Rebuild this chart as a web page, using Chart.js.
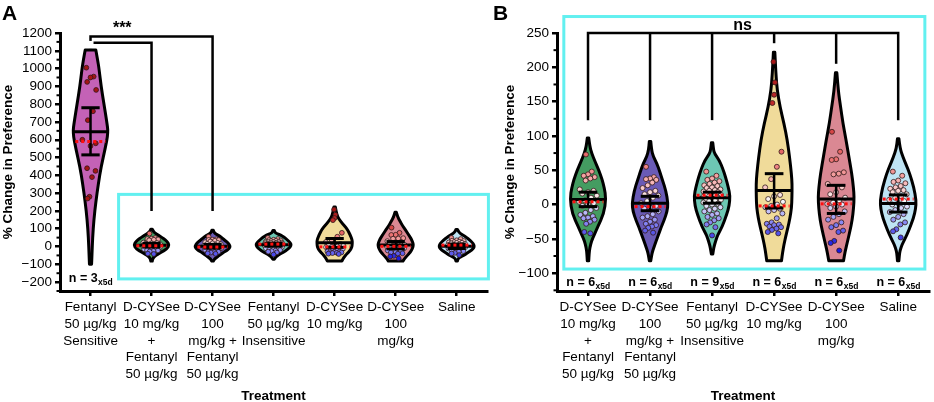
<!DOCTYPE html>
<html>
<head>
<meta charset="utf-8">
<script src="https://cdn.jsdelivr.net/npm/chart.js@4.4.0/dist/chart.umd.min.js"></script>
<style>
  html, body { margin: 0; padding: 0; background: #fff; }
  #wrap { position: relative; width: 934px; height: 402px; overflow: hidden; }
  #cA { position: absolute; left: 0; top: 0; }
  #cB { position: absolute; left: 492px; top: 0; }
  .panel { position: absolute; top: 1px; font: bold 21px "Liberation Sans", Arial, sans-serif; }
</style>
</head>
<body>
<div id="wrap">
  <canvas id="cA" width="492" height="402"></canvas>
  <canvas id="cB" width="442" height="402"></canvas>
  <div class="panel" style="left:2px">A</div>
  <div class="panel" style="left:493px">B</div>
</div>
<script>
// Kategoriler
var lblFentSens = ['Fentanyl', '50 µg/kg', 'Sensitive'];
var lblCysee10Fent = ['D-CYSee', '10 mg/kg', '+', 'Fentanyl', '50 µg/kg'];
var lblCysee100Fent = ['D-CYSee', '100', 'mg/kg +', 'Fentanyl', '50 µg/kg'];
var lblFentInsens = ['Fentanyl', '50 µg/kg', 'Insensitive'];
var lblCysee10 = ['D-CYSee', '10 mg/kg'];
var lblCysee100 = ['D-CYSee', '100', 'mg/kg'];
var lblSaline = ['Saline'];

// Tek tek ölçümler (% değişim)
var valsFentSens = [1005, 955, 950, 925, 880, 760, 710, 600, 580, 565, 440, 425, 390, 280, 270];
var valsCysee10Fent = [73, 48, 44, 42, 40, 38, 35, 22, 20, 18, 16, 13, 10, 6, 4, 2, 0, -2, -5, -8, -12, -15, -17, -19, -20, -22, -25, -28, -40, -42];
var valsCysee100Fent = [55, 40, 38, 37, 36, 32, 28, 24, 20, 18, 15, 13, 10, 5, 2, -2, -4, -6, -10, -14, -17, -19, -22, -25, -28, -30, -32, -34, -38, -41];
var valsFentInsens = [48, 42, 38, 36, 34, 32, 30, 28, 27, 25, 24, 22, 21, 20, 19, 18, 16, 15, 14, 13, 12, 11, 10, 9, 8, 7, 6, 5, 3, 1, 0, -2, -4, -6, -8, -10, -13, -15, -18, -20, -23, -26, -29, -33, -45];
var valsCysee10 = [208, 178, 160, 148, 77, 55, 37, 25, 14, 12, 8, 4, 0, -2, -4, -6, -8, -10, -13, -20, -26, -28, -29, -30, -32, -33, -35, -37, -40, -42];
var valsCysee100 = [106, 77, 66, 65, 47, 45, 44, 30, 25, 18, 15, 10, 6, 3, 1, 0, -3, -5, -10, -14, -18, -22, -26, -30, -33, -38, -40, -53, -56, -67];
var valsSaline = [48, 42, 35, 33, 31, 27, 25, 23, 21, 20, 18, 15, 12, 10, 7, 5, 2, 0, -3, -5, -8, -11, -14, -18, -22, -26, -29, -36, -39, -48];

// Violin yoğunluk profilleri: [değer, göreli genişlik]
var densFentSens = [[1105, 0.3], [1050, 0.4], [1000, 0.48], [900, 0.6], [800, 0.76], [700, 0.92], [640, 1], [550, 0.83], [450, 0.6], [350, 0.44], [250, 0.3], [150, 0.19], [50, 0.12], [-50, 0.08], [-100, 0.06]];
var densCysee10Fent = [[97, 0.04], [85, 0.1], [75, 0.2], [62, 0.4], [50, 0.6], [37, 0.78], [25, 0.9], [9, 1], [-13, 0.88], [-33, 0.53], [-45, 0.33], [-53, 0.2], [-63, 0.1], [-72, 0.06], [-82, 0.04]];
var densCysee100Fent = [[92, 0.04], [80, 0.08], [70, 0.18], [60, 0.38], [47, 0.55], [35, 0.7], [20, 0.88], [2, 1], [-10, 0.95], [-23, 0.78], [-33, 0.62], [-43, 0.48], [-53, 0.34], [-62, 0.22], [-70, 0.12], [-77, 0.07], [-82, 0.04]];
var densFentInsens = [[90, 0.04], [80, 0.08], [74, 0.14], [64, 0.41], [52, 0.6], [40, 0.75], [25, 0.9], [13, 1], [-2, 0.95], [-14, 0.82], [-33, 0.55], [-45, 0.3], [-53, 0.2], [-62, 0.1], [-72, 0.04]];
var densCysee10 = [[222, 0.04], [190, 0.1], [167, 0.17], [142, 0.33], [118, 0.55], [94, 0.73], [69, 0.86], [45, 0.96], [30, 1], [10, 0.99], [-4, 0.97], [-20, 0.88], [-33, 0.77], [-46, 0.65], [-58, 0.55], [-70, 0.47], [-82, 0.41]];
var densCysee100 = [[192, 0.04], [165, 0.12], [142, 0.25], [118, 0.38], [94, 0.55], [69, 0.71], [45, 0.87], [25, 0.96], [11, 1], [-5, 0.97], [-23, 0.89], [-38, 0.77], [-53, 0.64], [-68, 0.5], [-82, 0.41]];
var densSaline = [[96, 0.04], [82, 0.1], [69, 0.27], [57, 0.46], [45, 0.64], [25, 0.87], [6, 1], [-6, 0.97], [-19, 0.86], [-38, 0.59], [-50, 0.38], [-58, 0.22], [-67, 0.1], [-75, 0.06], [-82, 0.04]];

// Özet istatistikler (ortalama, SEM sınırları, medyan)
var meanFentSens = 645, semHiFentSens = 780, semLoFentSens = 515, medianFentSens = 590;
var meansB = [7.5, 2, 10, 20.5, 8, 1.5];
var semHiB = [18, 12, 18, 45, 28, 14];
var semLoB = [-3, -9, 2, -5, -13, -11];
var mediansB = [4, -3, 13.5, -2, 1, 8];
var nSubjectsA = [3];
var nSubjectsB = [6, 6, 9, 6, 6, 6];

// Eksen işaretleri
var yTicksA = [-200, -100, 0, 100, 200, 300, 400, 500, 600, 700, 800, 900, 1000, 1100, 1200];
var yTicksB = [-100, -50, 0, 50, 100, 150, 200, 250];

var violinColors = ['#c462b6', '#449c61', '#6a5bb6', '#6dc7b3', '#f0db9a', '#da8893', '#bfe4f4'];
var FONT = '"Liberation Sans", Arial, sans-serif';
var HW = 0.29;

Chart.defaults.font.family = FONT;
Chart.defaults.color = '#000';

// Değere göre nokta rengi (mavi -> beyaz -> kırmızı)
function dotColor(v) {
    var stops = [[-60, [25, 25, 225]], [-35, [105, 105, 238]], [-15, [175, 175, 248]], [5, [250, 250, 250]], [25, [248, 200, 200]], [60, [238, 120, 120]], [120, [205, 55, 55]], [200, [165, 20, 20]]];
    if (v <= stops[0][0]) return 'rgb(' + stops[0][1].join(',') + ')';
    for (var k = 0; k < stops.length - 1; k++) {
        var a = stops[k], b = stops[k + 1];
        if (v <= b[0]) {
            var t = (v - a[0]) / (b[0] - a[0]);
            return 'rgb(' + a[1].map(function(c, i) { return Math.round(c + (b[1][i] - c) * t); }).join(',') + ')';
        }
    }
    return 'rgb(' + stops[stops.length - 1][1].join(',') + ')';
}

function relWidth(prof, v) {
    for (var k = 0; k < prof.length - 1; k++) {
        var a = prof[k], b = prof[k + 1];
        if (v <= a[0] && v >= b[0]) {
            return a[1] + (b[1] - a[1]) * (a[0] - v) / (a[0] - b[0]);
        }
    }
    return prof[prof.length - 1][1];
}

function smoothSide(ctx, pts, first) {
    if (first) ctx.moveTo(pts[0][0], pts[0][1]); else ctx.lineTo(pts[0][0], pts[0][1]);
    for (var k = 1; k < pts.length - 1; k++) {
        var mx = (pts[k][0] + pts[k + 1][0]) / 2, my = (pts[k][1] + pts[k + 1][1]) / 2;
        ctx.quadraticCurveTo(pts[k][0], pts[k][1], mx, my);
    }
    ctx.lineTo(pts[pts.length - 1][0], pts[pts.length - 1][1]);
}

function hline(ctx, x1, x2, y, w, color, dash) {
    ctx.save();
    ctx.strokeStyle = color; ctx.lineWidth = w;
    if (dash) ctx.setLineDash(dash);
    ctx.beginPath(); ctx.moveTo(x1, y); ctx.lineTo(x2, y); ctx.stroke();
    ctx.restore();
}

function violinPlugin(p) {
    return {
        id: 'violins',
        beforeDatasetsDraw: function(chart) {
            var ctx = chart.ctx, xs = chart.scales.x, ys = chart.scales.y;
            var step = xs.getPixelForValue(1) - xs.getPixelForValue(0);
            ctx.save();
            // cyan çerçeve
            ctx.strokeStyle = '#62f0f0'; ctx.lineWidth = 3;
            var bx1 = xs.getPixelForValue(p.box[0]), bx2 = xs.getPixelForValue(p.box[1]);
            var by1 = ys.getPixelForValue(p.box[2]), by2 = ys.getPixelForValue(p.box[3]);
            ctx.strokeRect(bx1, by1, bx2 - bx1, by2 - by1);
            // anlamlılık köşeli çizgileri
            ctx.strokeStyle = '#000'; ctx.lineWidth = 2.5; ctx.lineJoin = 'miter'; ctx.lineCap = 'butt';
            p.brackets.forEach(function(br) {
                ctx.beginPath();
                br.forEach(function(pt, k) {
                    var X = xs.getPixelForValue(pt[0]), Y = ys.getPixelForValue(pt[1]);
                    if (k === 0) ctx.moveTo(X, Y); else ctx.lineTo(X, Y);
                });
                ctx.stroke();
            });
            // violin üstünde beyaz boşluk
            p.dens.forEach(function(prof, i) {
                var X = xs.getPixelForValue(i), top = ys.getPixelForValue(prof[0][0]);
                ctx.fillStyle = '#fff';
                ctx.fillRect(X - 3, top - 9, 6, 8);
            });
            // violinler
            ctx.lineWidth = 3; ctx.lineJoin = 'round'; ctx.strokeStyle = '#000';
            p.dens.forEach(function(prof, i) {
                var cx = xs.getPixelForValue(i);
                var right = prof.map(function(d) { return [cx + d[1] * HW * step, ys.getPixelForValue(d[0])]; });
                var left = prof.slice().reverse().map(function(d) { return [cx - d[1] * HW * step, ys.getPixelForValue(d[0])]; });
                ctx.beginPath();
                smoothSide(ctx, right, true);
                smoothSide(ctx, left, false);
                ctx.closePath();
                ctx.fillStyle = p.colors[i];
                ctx.fill();
                ctx.stroke();
            });
            ctx.restore();
        },
        afterDatasetsDraw: function(chart) {
            var ctx = chart.ctx, xs = chart.scales.x, ys = chart.scales.y;
            var step = xs.getPixelForValue(1) - xs.getPixelForValue(0);
            p.means.forEach(function(m, i) {
                var cx = xs.getPixelForValue(i);
                var yHi = ys.getPixelForValue(p.semHi[i]), yLo = ys.getPixelForValue(p.semLo[i]);
                ctx.save();
                ctx.strokeStyle = '#000'; ctx.lineWidth = 2.5;
                ctx.beginPath(); ctx.moveTo(cx, yHi); ctx.lineTo(cx, yLo); ctx.stroke();
                ctx.restore();
                hline(ctx, cx - 0.15 * step, cx + 0.15 * step, yHi, 3, '#000');
                hline(ctx, cx - 0.15 * step, cx + 0.15 * step, yLo, 3, '#000');
                hline(ctx, cx - 0.28 * step, cx + 0.28 * step, ys.getPixelForValue(m), 3, '#000');
                hline(ctx, cx - 0.25 * step, cx + 0.25 * step, ys.getPixelForValue(p.medians[i]), 3, '#ff1010', [3, 3]);
            });
        },
        afterDraw: function(chart) {
            var ctx = chart.ctx, xs = chart.scales.x, ys = chart.scales.y, ca = chart.chartArea;
            ctx.save();
            // ara işaretler
            ctx.strokeStyle = '#000'; ctx.lineWidth = 2;
            p.minorTicks.forEach(function(v) {
                var Y = ys.getPixelForValue(v);
                ctx.beginPath(); ctx.moveTo(ca.left - 3.5, Y); ctx.lineTo(ca.left, Y); ctx.stroke();
            });
            // n etiketleri
            ctx.textBaseline = 'middle';
            p.nCounts.forEach(function(n, i) {
                var main = 'n = ' + n, sub = 'x5d';
                ctx.font = 'bold 12.5px ' + FONT;
                var w1 = ctx.measureText(main).width;
                ctx.font = 'bold 8.5px ' + FONT;
                var w2 = ctx.measureText(sub).width;
                var x0 = xs.getPixelForValue(i) - (w1 + w2) / 2;
                var Y = ys.getPixelForValue(p.nY);
                ctx.font = 'bold 12.5px ' + FONT;
                ctx.textAlign = 'left';
                ctx.fillText(main, x0, Y);
                ctx.font = 'bold 8.5px ' + FONT;
                ctx.fillText(sub, x0 + w1 + 0.5, Y + 4);
            });
            // anlamlılık yazısı
            ctx.font = 'bold 16px ' + FONT;
            ctx.textAlign = 'center';
            ctx.fillText(p.sig.text, xs.getPixelForValue(p.sig.x), ys.getPixelForValue(p.sig.y));
            ctx.restore();
        }
    };
}

function makeChart(id, p) {
    var pts = [], cols = [];
    p.values.forEach(function(vals, i) {
        vals.forEach(function(v, k) {
            var j = (((k * 5) % 7) - 3) / 3;
            pts.push({ x: i + j * 0.5 * HW * relWidth(p.dens[i], v), y: v });
            cols.push(dotColor(v));
        });
    });
    return new Chart(document.getElementById(id), {
        type: 'scatter',
        data: {
            datasets: [{
                data: pts,
                pointRadius: p.dotR,
                pointBackgroundColor: cols,
                pointBorderColor: '#301818',
                pointBorderWidth: 0.8
            }]
        },
        options: {
            responsive: false,
            animation: false,
            layout: { padding: { left: 0, right: p.padRight, top: 33, bottom: 0 } },
            plugins: { legend: { display: false }, tooltip: { enabled: false } },
            scales: {
                x: {
                    type: 'linear', min: -0.5, max: p.labels.length - 0.5,
                    afterBuildTicks: function(s) { s.ticks = p.labels.map(function(_, i) { return { value: i }; }); },
                    afterFit: function(s) { s.height = 111; },
                    ticks: {
                        autoSkip: false, maxRotation: 0, padding: 3,
                        font: { size: 13.5, lineHeight: 1.24 }, color: '#000',
                        callback: function(v) { return p.labels[v]; }
                    },
                    grid: { drawOnChartArea: false, drawTicks: true, tickLength: 5, color: '#000', lineWidth: 2.5 },
                    border: { color: '#000', width: 3 },
                    title: { display: true, text: 'Treatment', font: { size: 13.5, weight: 'bold' }, color: '#000', padding: { top: 0, bottom: -2 } }
                },
                y: {
                    type: 'linear', min: p.yMin, max: p.yMax,
                    afterBuildTicks: function(s) { s.ticks = p.yTicks.map(function(v) { return { value: v }; }); },
                    afterFit: function(s) { s.width = p.yWidth; },
                    ticks: {
                        autoSkip: false, padding: 3, font: { size: 13.5 }, color: '#000',
                        callback: function(v) { return v < 0 ? '\u2212' + Math.abs(v) : String(v); }
                    },
                    grid: { drawOnChartArea: false, drawTicks: true, tickLength: 5, color: '#000', lineWidth: 2.5 },
                    border: { color: '#000', width: 3 },
                    title: { display: true, text: '% Change in Preference', font: { size: 13.5, weight: 'bold' }, color: '#000', padding: { top: p.titlePad, bottom: 0 } }
                }
            }
        },
        plugins: [violinPlugin(p)]
    });
}

function oddSteps(lo, hi, step) {
    var out = [];
    for (var v = lo; v <= hi; v += step) out.push(v);
    return out;
}

var densB = [densCysee10Fent, densCysee100Fent, densFentInsens, densCysee10, densCysee100, densSaline];
var valsB = [valsCysee10Fent, valsCysee100Fent, valsFentInsens, valsCysee10, valsCysee100, valsSaline];
var labelsB = [lblCysee10Fent, lblCysee100Fent, lblFentInsens, lblCysee10, lblCysee100, lblSaline];

makeChart('cA', {
    labels: [lblFentSens].concat(labelsB),
    values: [valsFentSens].concat(valsB),
    dens: [densFentSens].concat(densB),
    colors: violinColors,
    means: [meanFentSens].concat(meansB),
    semHi: [semHiFentSens].concat(semHiB),
    semLo: [semLoFentSens].concat(semLoB),
    medians: [medianFentSens].concat(mediansB),
    nCounts: nSubjectsA, nY: -182,
    yMin: -250, yMax: 1200, yTicks: yTicksA, minorTicks: oddSteps(-250, 1150, 100),
    yWidth: 60, titlePad: 0, padRight: 3, dotR: 2.4,
    box: [0.46, 6.52, 293, -182],
    brackets: [[[0, 1105], [0, 1180], [2, 1180], [2, 200]], [[0, 1145], [1, 1145], [1, 200]]],
    sig: { text: '***', x: 0.52, y: 1222 }
});

makeChart('cB', {
    labels: labelsB,
    values: valsB,
    dens: densB,
    colors: violinColors.slice(1),
    means: meansB, semHi: semHiB, semLo: semLoB, medians: mediansB,
    nCounts: nSubjectsB, nY: -114,
    yMin: -126, yMax: 250, yTicks: yTicksB, minorTicks: oddSteps(-125, 225, 50),
    yWidth: 65, titlePad: 10, padRight: 2, dotR: 2.5,
    box: [-0.39, 5.43, 274, -94],
    brackets: [[[0, 123], [0, 250], [5, 250], [5, 123]], [[1, 250], [1, 123]], [[2, 250], [2, 123]], [[3, 250], [3, 123]], [[4, 250], [4, 123]]],
    sig: { text: 'ns', x: 2.49, y: 261 }
});
</script>
</body>
</html>
